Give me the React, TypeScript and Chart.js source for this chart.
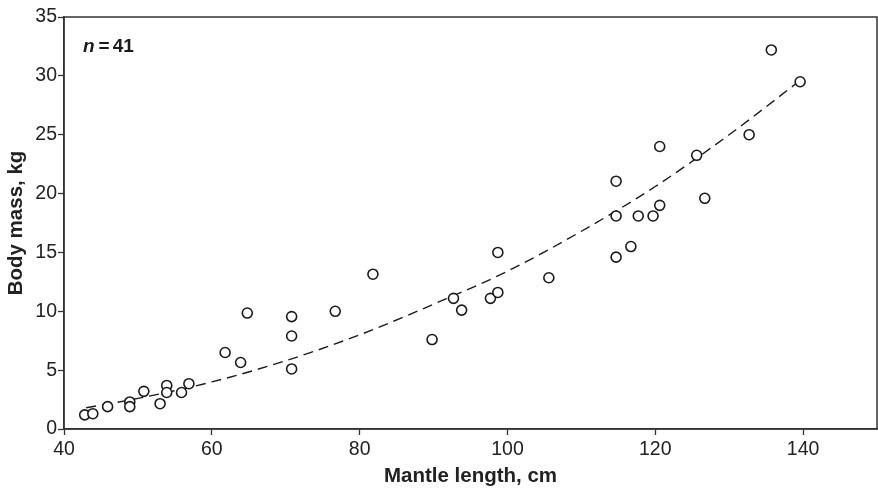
import React, { useEffect, useRef } from "react";
import { Chart, registerables } from "chart.js";

Chart.register(...registerables);

// Observed specimens: mantle length (cm) and body mass (kg)
const mantleLength: number[] = [
  42.8, 43.9, 45.9, 48.9, 48.9, 50.8, 53.0, 53.9, 53.9, 55.9, 56.9,
  61.8, 63.9, 64.8, 70.8, 70.8, 70.8, 76.7, 81.8, 89.8, 92.7, 93.8,
  97.7, 98.7, 98.7, 105.6, 114.7, 114.7, 114.7, 116.7, 117.7, 119.7,
  120.6, 120.6, 125.6, 126.7, 132.7, 135.7, 139.6,
];
const bodyMass: number[] = [
  1.2, 1.3, 1.9, 2.3, 1.9, 3.2, 2.15, 3.7, 3.1, 3.1, 3.85,
  6.5, 5.65, 9.85, 9.55, 7.9, 5.1, 10.0, 13.15, 7.6, 11.1, 10.1,
  11.1, 11.6, 15.0, 12.85, 21.05, 18.1, 14.6, 15.5, 18.1, 18.1,
  24.0, 19.0, 23.25, 19.6, 25.0, 32.2, 29.5,
];

// Fitted curve (dashed)
const fitLength: number[] = [43, 50, 60, 70, 80, 90, 100, 110, 120, 130, 140];
const fitMass: number[] = [1.8, 2.6, 4.0, 5.8, 8.0, 10.6, 13.4, 16.8, 20.6, 25.0, 29.8];

const xTicks: number[] = [40, 60, 80, 100, 120, 140];
const yTicks: number[] = [0, 5, 10, 15, 20, 25, 30, 35];

const FONT = "'Liberation Sans', Arial, Helvetica, sans-serif";
const AXIS_COLOR = "#333333";

export default function App() {
  const ref = useRef<HTMLCanvasElement | null>(null);

  useEffect(() => {
    if (!ref.current) return;
    const framePlugin = {
      id: "frame",
      afterDraw(chart: any) {
        const { ctx, chartArea } = chart;
        ctx.save();
        ctx.strokeStyle = AXIS_COLOR;
        ctx.lineWidth = 1.5;
        ctx.strokeRect(chartArea.left, chartArea.top, chartArea.right - chartArea.left, chartArea.bottom - chartArea.top);
        // n = 41 label
        const x0 = chartArea.left + 19;
        const y0 = chartArea.top + 30;
        ctx.fillStyle = "#1a1a1a";
        ctx.textBaseline = "middle";
        ctx.textAlign = "left";
        ctx.font = `italic bold 19px ${FONT}`;
        ctx.fillText("n", x0, y0);
        let x = x0 + ctx.measureText("n").width + 4;
        ctx.font = `bold 19px ${FONT}`;
        ctx.fillText("=", x, y0);
        x += ctx.measureText("=").width + 3;
        ctx.fillText("41", x, y0);
        ctx.restore();
      },
    };

    const chart = new Chart(ref.current, {
      type: "scatter",
      data: {
        datasets: [
          {
            type: "scatter",
            data: mantleLength.map((x, i) => ({ x, y: bodyMass[i] })),
            pointRadius: 5,
            pointBorderWidth: 1.6,
            pointBorderColor: "#1a1a1a",
            pointBackgroundColor: "#ffffff",
            order: 0,
          } as any,
          {
            type: "line",
            data: fitLength.map((x, i) => ({ x, y: fitMass[i] })),
            borderColor: "#1a1a1a",
            borderWidth: 1.4,
            borderDash: [10, 6],
            pointRadius: 0,
            fill: false,
            cubicInterpolationMode: "monotone",
            order: 1,
          } as any,
        ],
      },
      options: {
        animation: false,
        responsive: false,
        maintainAspectRatio: false,
        layout: { autoPadding: false, padding: { top: 17, right: 1, left: 0, bottom: 0 } },
        plugins: { legend: { display: false }, tooltip: { enabled: false } },
        scales: {
          x: {
            type: "linear",
            min: 40,
            max: 150,
            afterBuildTicks: (s: any) => {
              s.ticks = xTicks.map((v) => ({ value: v }));
            },
            afterFit: (s: any) => {
              s.height = 61;
              s.paddingLeft = 0;
              s.paddingRight = 0;
            },
            ticks: {
              color: "#222",
              font: { family: FONT, size: 19.5 },
              padding: 3,
            },
            grid: {
              display: true,
              drawOnChartArea: false,
              drawTicks: true,
              tickLength: 6,
              tickWidth: 1.3,
              tickColor: AXIS_COLOR,
            },
            border: { display: true, color: AXIS_COLOR, width: 1.5 },
            title: {
              display: true,
              text: "Mantle length, cm",
              color: "#222",
              font: { family: FONT, size: 20.5, weight: "bold" },
              padding: { top: 0, bottom: 1 },
            },
          },
          y: {
            type: "linear",
            min: 0,
            max: 35,
            afterBuildTicks: (s: any) => {
              s.ticks = yTicks.map((v) => ({ value: v }));
            },
            afterFit: (s: any) => {
              s.width = 64;
              s.paddingTop = 0;
              s.paddingBottom = 0;
            },
            ticks: {
              color: "#222",
              font: { family: FONT, size: 19.5 },
              padding: 1,
            },
            grid: {
              display: true,
              drawOnChartArea: false,
              drawTicks: true,
              tickLength: 6,
              tickWidth: 1.3,
              tickColor: AXIS_COLOR,
            },
            border: { display: true, color: AXIS_COLOR, width: 1.5 },
            title: {
              display: true,
              text: "Body mass, kg",
              color: "#222",
              font: { family: FONT, size: 20.5, weight: "bold" },
              padding: { top: 4, bottom: 0 },
            },
          },
        },
      },
      plugins: [framePlugin],
    } as any);
    return () => chart.destroy();
  }, []);

  return (
    <div style={{ position: "absolute", left: 0, top: 0, width: 878, height: 490, background: "#fff" }}>
      <canvas ref={ref} width={878} height={490} style={{ display: "block", width: 878, height: 490 }} />
    </div>
  );
}
